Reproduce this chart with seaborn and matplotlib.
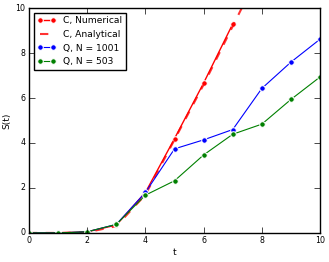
import matplotlib
matplotlib.use('Agg')
import matplotlib.pyplot as plt
import seaborn as sns

t_num = [0, 1, 2, 3, 4, 5, 6, 7]
s_num = [0.0, 0.0, 0.05, 0.35, 1.8, 4.2, 6.67, 9.3]
t_ana = [0, 1, 2, 3, 4, 5, 6, 7, 8]
s_ana = [0.0, 0.0, 0.03, 0.3, 1.7, 4.15, 6.6, 9.2, 11.8]
t_q = [0, 1, 2, 3, 4, 5, 6, 7, 8, 9, 10]
s_q1001 = [0.0, 0.0, 0.05, 0.38, 1.8, 3.74, 4.14, 4.6, 6.43, 7.6, 8.62]
s_q503 = [0.0, 0.0, 0.05, 0.38, 1.68, 2.32, 3.47, 4.39, 4.84, 5.94, 6.94]

plt.style.use('classic')
fig = plt.figure(figsize=(3.29, 2.62), dpi=100)
ax = fig.add_axes([0.088, 0.111, 0.885, 0.858])

sns.lineplot(x=t_num, y=s_num, ax=ax, color='red', marker='o', markersize=4,
             linewidth=1, label='C, Numerical')
sns.lineplot(x=t_ana, y=s_ana, ax=ax, color='red', linestyle='--', linewidth=1.5,
             alpha=0.8, label='C, Analytical')
sns.lineplot(x=t_q, y=s_q1001, ax=ax, color='blue', marker='o', markersize=4,
             linewidth=0.8, label='Q, N = 1001')
sns.lineplot(x=t_q, y=s_q503, ax=ax, color='green', marker='o', markersize=4,
             linewidth=0.8, label='Q, N = 503')

ax.set_xlim(0, 10)
ax.set_ylim(0, 10)
ax.set_xticks([0, 2, 4, 6, 8, 10])
ax.set_yticks([0, 2, 4, 6, 8, 10])
ax.tick_params(labelsize=5.7, pad=2.5)
ax.set_xlabel('t', fontsize=6.6, labelpad=2)
ax.set_ylabel('S(t)', fontsize=6.6, labelpad=3)
ax.legend(loc='upper left', fontsize=6.6, numpoints=2)

fig.savefig('out.png', dpi=100)
